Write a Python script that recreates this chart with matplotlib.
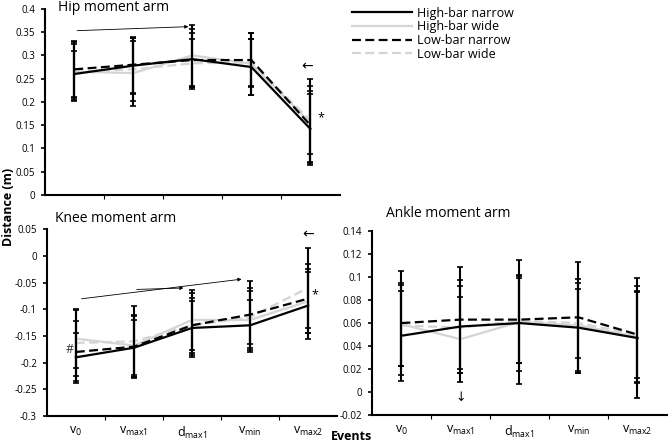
import numpy as np
import matplotlib
matplotlib.use("Agg")
from matplotlib import pyplot as plt
from matplotlib.ticker import FuncFormatter, FixedLocator

plt.rcParams['font.family'] = ['Open Sans', 'DejaVu Sans']

EVENTS = [r"v$\mathregular{_0}$", r"v$\mathregular{_{max1}}$", r"d$\mathregular{_{max1}}$",
          r"v$\mathregular{_{min}}$", r"v$\mathregular{_{max2}}$"]
SERIES = ["High-bar narrow", "High-bar wide", "Low-bar narrow", "Low-bar wide"]

# means and SDs per series (HN, HW, LN, LW)
hip_mean = [
    [0.260, 0.278, 0.292, 0.275, 0.142],
    [0.265, 0.262, 0.300, 0.282, 0.155],
    [0.270, 0.280, 0.290, 0.290, 0.150],
    [0.265, 0.270, 0.283, 0.285, 0.160],
]
hip_sd = [
    [0.050, 0.060, 0.064, 0.060, 0.074],
    [0.060, 0.070, 0.065, 0.067, 0.068],
    [0.062, 0.060, 0.058, 0.058, 0.085],
    [0.063, 0.068, 0.052, 0.050, 0.090],
]
knee_mean = [
    [-0.190, -0.172, -0.135, -0.130, -0.093],
    [-0.155, -0.168, -0.120, -0.120, -0.085],
    [-0.180, -0.170, -0.130, -0.110, -0.080],
    [-0.163, -0.160, -0.130, -0.115, -0.060],
]
knee_sd = [
    [0.045, 0.052, 0.050, 0.047, 0.062],
    [0.055, 0.058, 0.057, 0.060, 0.060],
    [0.058, 0.058, 0.060, 0.063, 0.065],
    [0.062, 0.066, 0.052, 0.050, 0.075],
]
ankle_mean = [
    [0.049, 0.057, 0.060, 0.056, 0.047],
    [0.059, 0.046, 0.061, 0.058, 0.048],
    [0.060, 0.063, 0.063, 0.065, 0.050],
    [0.058, 0.056, 0.062, 0.060, 0.050],
]
ankle_sd = [
    [0.039, 0.040, 0.042, 0.039, 0.052],
    [0.036, 0.037, 0.054, 0.040, 0.039],
    [0.045, 0.046, 0.038, 0.048, 0.042],
    [0.035, 0.036, 0.037, 0.030, 0.038],
]

STYLES = [
    dict(color="black", ls="-"),
    dict(color="#d4d4d4", ls="-"),
    dict(color="black", ls=(0, (4, 2))),
    dict(color="#d4d4d4", ls=(0, (4, 2))),
]

fig = plt.figure(figsize=(6.69, 4.45), dpi=100)
ax_hip = fig.add_axes([0.067, 0.562, 0.441, 0.418])
ax_knee = fig.add_axes([0.070, 0.065, 0.434, 0.420])
ax_ank = fig.add_axes([0.556, 0.067, 0.441, 0.414])

x = np.arange(len(EVENTS))


def draw(ax, means, sds, ylim, step, title, title_xy, labels=True):
    for i in range(4):
        st = STYLES[i]
        ax.errorbar(x, means[i], yerr=sds[i], color=st["color"], ls=st["ls"], lw=1.6,
                    ecolor="black", elinewidth=1.5, capsize=2, capthick=1.2,
                    label=SERIES[i], zorder=3 - (i % 2))
    ax.set_xlim(-0.5, 4.5)
    ax.set_ylim(*ylim)
    ax.yaxis.set_major_locator(FixedLocator(np.round(np.arange(ylim[0], ylim[1] + step / 2, step), 4)))
    ax.yaxis.set_major_formatter(FuncFormatter(lambda v, p: "{:g}".format(round(v, 4)) if abs(v) > 1e-9 else "0"))
    ax.xaxis.set_minor_locator(FixedLocator([0.5, 1.5, 2.5, 3.5]))
    ax.set_xticks(x)
    if labels:
        ax.set_xticklabels(EVENTS, fontsize=9)
    else:
        ax.set_xticklabels([])
    ax.tick_params(axis="x", which="major", length=0, pad=6)
    ax.tick_params(axis="x", which="minor", length=3, width=0.8)
    ax.tick_params(axis="y", length=3, width=1.2, labelsize=7, pad=4)
    for s in ["top", "right"]:
        ax.spines[s].set_visible(False)
    for s in ["left", "bottom"]:
        ax.spines[s].set_linewidth(1.5)
    fig.text(title_xy[0], title_xy[1], title, fontsize=10, ha="left", va="center")


draw(ax_hip, hip_mean, hip_sd, (0, 0.4), 0.05, "Hip moment arm", (0.087, 0.984), labels=False)
draw(ax_knee, knee_mean, knee_sd, (-0.3, 0.05), 0.05, "Knee moment arm", (0.082, 0.51))
draw(ax_ank, ankle_mean, ankle_sd, (-0.02, 0.14), 0.02, "Ankle moment arm", (0.577, 0.52))

arrow = dict(arrowstyle="-|>", color="black", lw=0.6, mutation_scale=5)
# hip annotations
ax_hip.annotate("", xy=(1.98, 0.362), xytext=(0.0, 0.353), arrowprops=arrow)
ax_hip.text(3.95, 0.275, "\u2190", fontsize=10, ha="center", va="center")
ax_hip.text(4.18, 0.165, "*", fontsize=9, ha="center", va="center")
# knee annotations
ax_knee.annotate("", xy=(2.9, -0.043), xytext=(0.05, -0.081), arrowprops=arrow)
ax_knee.annotate("", xy=(1.9, -0.060), xytext=(1.0, -0.063), arrowprops=arrow)
ax_knee.text(-0.1, -0.175, "#", fontsize=9, ha="center", va="center", color="#333333")
ax_knee.text(4.0, 0.04, "\u2190", fontsize=10, ha="center", va="center")
ax_knee.text(4.12, -0.073, "*", fontsize=9, ha="center", va="center")
# ankle annotation
ax_ank.text(1.0, -0.005, "\u2193", fontsize=9, ha="center", va="center")

lines = [plt.Line2D([], [], color=STYLES[i]["color"], ls=STYLES[i]["ls"], lw=1.6) for i in range(4)]
fig.legend(lines, SERIES, loc="upper left", bbox_to_anchor=(0.51, 1.01), frameon=False,
           fontsize=9, handlelength=4.8, handletextpad=0.4, labelspacing=0.05)

fig.text(0.012, 0.535, "Distance (m)", rotation=90, fontsize=9, fontweight="bold",
         ha="center", va="center")
fig.text(0.525, 0.018, "Events", fontsize=9, fontweight="bold", ha="center", va="center")

fig.savefig("out.png", dpi=100)
